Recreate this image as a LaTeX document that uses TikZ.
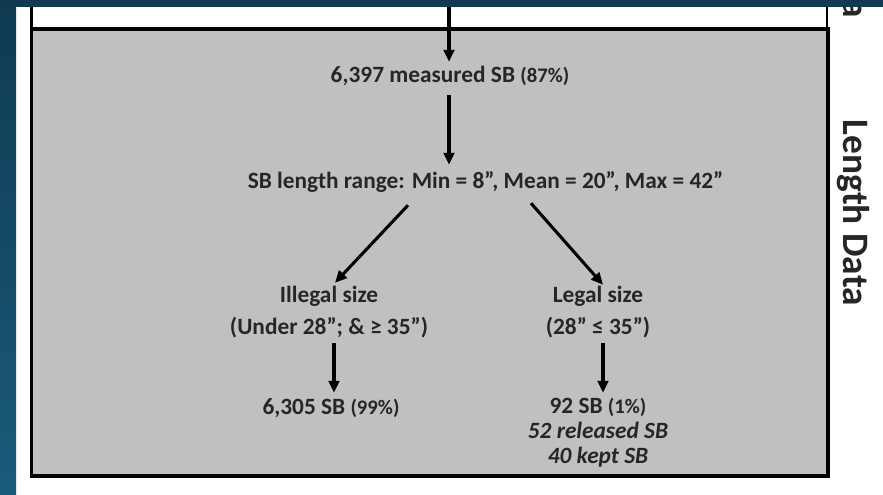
\documentclass[tikz,border=0pt]{standalone}
\usepackage{fontspec}
\setmainfont{Carlito}
\usetikzlibrary{arrows.meta}
\definecolor{navyA}{HTML}{0F3A52}
\definecolor{navyB}{HTML}{1A5B7A}
\definecolor{panelgrey}{HTML}{C0C0C0}
\newcommand{\pctsz}{\fontsize{15.5}{18}\selectfont}
\begin{document}
\begin{tikzpicture}[x=0.75pt,y=-0.75pt,
  lbl/.style={font=\bfseries\fontsize{17.5}{20}\selectfont, inner sep=0pt, text height=12pt, text depth=4pt, anchor=center, text=black!85},
  ital/.style={lbl, font=\bfseries\itshape\fontsize{17.5}{20}\selectfont},
  side/.style={font=\bfseries\fontsize{28}{32}\selectfont, inner sep=0pt, rotate=-90, text=black!85},
  flow/.style={line width=2.3pt, -{Triangle[length=9pt,width=8pt]}}]
\useasboundingbox (0,0) rectangle (883,495);
\fill[white] (0,0) rectangle (883,495);
% upper (cut) box and grey panel
\draw[line width=2.2pt, fill=white] (31.5,-10) rectangle (827,29);
\draw[line width=2.5pt, fill=panelgrey] (31.5,29) rectangle (828,476);
% side labels
\node[side] (sidetop) at (853,9) {a};
\node[side] (side) at (853,213) {Length Data};
% flow text
\node[lbl] (m) at (450,77) {6,397 measured SB {\pctsz(87\%)}};
\node[lbl] (r) at (485.5,183) {SB length range: Min = 8”, Mean = 20”, Max = 42”};
\node[lbl] (il) at (329,297) {Illegal size};
\node[lbl] (ilr) at (329,329) {(Under 28”; \& ≥ 35”)};
\node[lbl] (lg) at (598,297) {Legal size};
\node[lbl] (lgr) at (598,329) {(28” ≤ 35”)};
\node[lbl] (i2) at (331,409) {6,305 SB {\pctsz(99\%)}};
\node[lbl] (l2) at (598,408) {92 SB {\pctsz(1\%)}};
\node[ital] (l3) at (598,433) {52 released SB};
\node[ital] (l4) at (598,458) {40 kept SB};
% connectors
\coordinate (topin) at (449,7);
\draw[flow] (topin) -- ([shift={(-1,-4.3)}]m.north);
\draw[flow] ([shift={(-1,7.3)}]m.south) -- ([shift={(-36.5,-7.3)}]r.north);
\draw[flow] ([shift={(-77.5,11.3)}]r.south) -- ([shift={(6,-3.3)}]il.north);
\draw[flow] ([shift={(45.5,9.3)}]r.south) -- ([shift={(5,-1.3)}]lg.north);
\draw[flow] ([shift={(5,3.3)}]ilr.south) -- ([shift={(3,-5.3)}]i2.north);
\draw[flow] ([shift={(5,3.3)}]lgr.south) -- ([shift={(5,-4.3)}]l2.north);
% dark blue frame strips
\shade[top color=navyA, bottom color=navyB] (0,0) rectangle (16,495);
\fill[navyA] (0,0) rectangle (883,7);
\end{tikzpicture}
\end{document}
